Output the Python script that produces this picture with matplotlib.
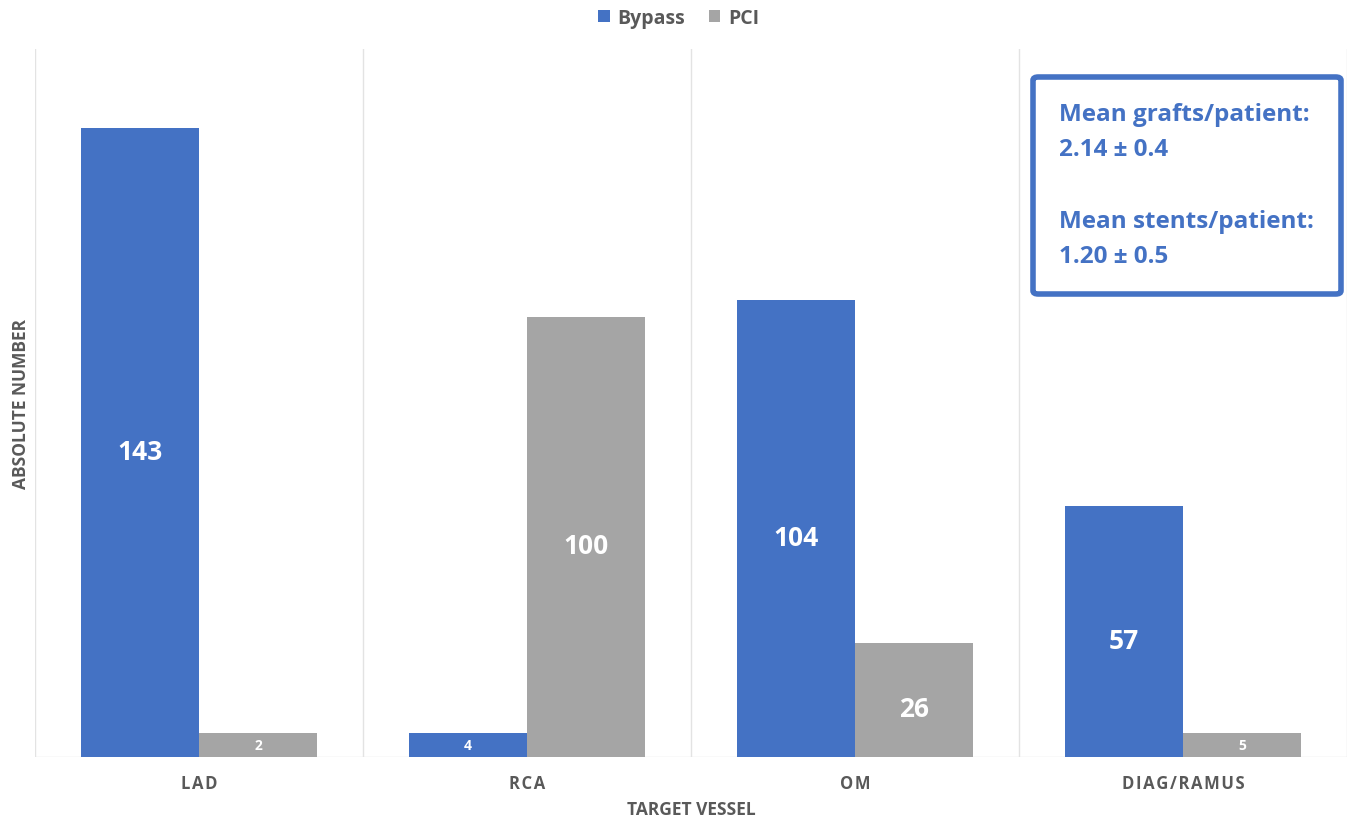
import matplotlib
matplotlib.use("Agg")
import matplotlib.pyplot as plt
import numpy as np
from matplotlib.patches import FancyBboxPatch

categories = ["LAD", "RCA", "OM", "DIAG/RAMUS"]
bypass = [143, 4, 104, 57]
pci = [2, 100, 26, 5]
series_names = ["Bypass", "PCI"]
note_lines = ["Mean grafts/patient:", "2.14 \u00b1 0.4", "", "Mean stents/patient:", "1.20 \u00b1 0.5"]

BLUE = "#4472C4"
GRAY = "#A5A5A5"
TXT = "#595959"
FONT = ["Open Sans", "DejaVu Sans"]
plt.rcParams["font.family"] = FONT

fig = plt.figure(figsize=(13.49, 8.28), dpi=100)
ax = fig.add_axes([0.026, 0.0845, 0.9725, 0.855])

x = np.arange(len(categories))
w = 0.36
min_visible = 5.5  # small bars drawn with a minimum visible height, as in the reference
b_h = np.maximum(bypass, min_visible)
p_h = np.maximum(pci, min_visible)
bars1 = ax.bar(x - w / 2, b_h, w, color=BLUE, label=series_names[0], zorder=3)
bars2 = ax.bar(x + w / 2, p_h, w, color=GRAY, label=series_names[1], zorder=3)

for bars, vals in ((bars1, bypass), (bars2, pci)):
    for r, v in zip(bars, vals):
        small = v < 10
        ax.text(r.get_x() + r.get_width() / 2, r.get_height() / 2 - (0 if small else 2), str(v),
                ha="center", va="center", color="white", fontweight="bold",
                fontsize=10 if small else 19, zorder=4)

ax.set_xlim(-0.5, len(categories) - 0.5)
ax.set_ylim(0, 161)
for b in np.arange(-0.5, len(categories) + 0.5, 1.0):
    ax.axvline(b, color="#E3E3E3", lw=1, zorder=1)
ax.axhline(0, color="#E3E3E3", lw=1, zorder=1)
for s in ax.spines.values():
    s.set_visible(False)
ax.set_yticks([])
ax.set_xticks(x)
ax.set_xticklabels(["\u200a".join(c) for c in categories], fontsize=12, fontweight="bold", color=TXT)
ax.tick_params(axis="x", length=0, pad=12)
ax.set_xlabel("TARGET VESSEL", fontsize=12.5, fontweight="bold", color=TXT, labelpad=6)
ax.set_ylabel("ABSOLUTE NUMBER", fontsize=12.5, fontweight="bold", color=TXT, labelpad=4)

leg = fig.legend(loc="center", bbox_to_anchor=(0.503, 0.977), ncol=2, frameon=False,
                 handlelength=0.6, handleheight=0.6, handletextpad=0.4, columnspacing=1.2,
                 prop={"family": FONT, "weight": "bold", "size": 14})
for t in leg.get_texts():
    t.set_color(TXT)

# annotation box
x0, y0, x1, y1 = 1033, 78, 1341, 295
box = FancyBboxPatch((x0 / 1349, 1 - y1 / 828), (x1 - x0) / 1349, (y1 - y0) / 828,
                     boxstyle="round,pad=0,rounding_size=0.004", transform=fig.transFigure,
                     facecolor="white", edgecolor=BLUE, linewidth=4, zorder=5)
fig.patches.append(box)
ys = [115, 150, 0, 222, 257]
for line, yy in zip(note_lines, ys):
    if line:
        fig.text(1059 / 1349, 1 - yy / 828, line, ha="left", va="center", color=BLUE,
                 fontsize=17.5, fontweight="bold", zorder=6)

fig.savefig("out.png", dpi=100)
